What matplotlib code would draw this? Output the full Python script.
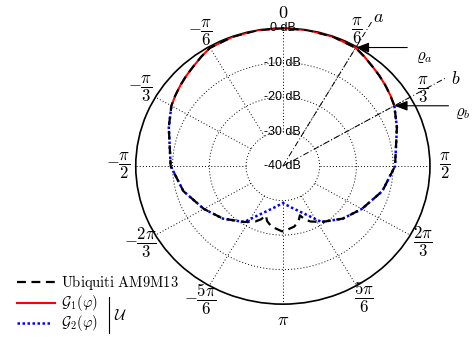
import numpy as np
import matplotlib.pyplot as plt
from matplotlib.lines import Line2D

plt.rcParams['mathtext.fontset'] = 'cm'

# Patterns: angle (deg, clockwise from top) and gain (dB)
G1_DEG = [-60, -55, -50, -45, -40, -35, -30, -20, -10, 0, 10, 20, 30, 35, 40, 45, 50, 55, 60]
G1_DB = [-5.0, -4.3, -3.6, -2.9, -2.2, -1.3, -0.4, -0.1, 0, 0, 0, -0.1, -0.4, -1.3, -2.2, -2.9, -3.6, -4.3, -5.0]

G2_DEG = [60, 70, 76, 90, 105, 120, 133, 147, 159, 168, 180,
          192, 201, 213, 227, 240, 255, 270, 284, 290, 300]
G2_DB = [-5.0, -7.0, -8.2, -9.5, -12.0, -15.2, -17.7, -20.7, -25.6, -27.6, -29.3,
         -27.6, -25.6, -20.7, -17.7, -15.2, -12.0, -9.5, -8.2, -7.0, -5.0]

UBNT_DEG = [-180, -170, -165, -162, -159, -155, -147, -133, -120, -105, -90, -76, -70,
            -60, -55, -50, -45, -40, -35, -30, -20, -10, 0, 10, 20, 30, 35, 40, 45, 50, 55,
            60, 70, 76, 90, 105, 120, 133, 147, 155, 159, 162, 165, 170, 180]
UBNT_DB = [-21.0, -22.2, -23.5, -25.0, -23.5, -22.3, -20.7, -17.7, -15.2, -12.0, -9.5, -8.2, -7.0,
           -5.0, -4.3, -3.6, -2.9, -2.2, -1.3, -0.4, -0.1, 0, 0, 0, -0.1, -0.4, -1.3, -2.2, -2.9, -3.6, -4.3,
           -5.0, -7.0, -8.2, -9.5, -12.0, -15.2, -17.7, -20.7, -22.3, -23.5, -25.0, -23.5, -22.2, -21.0]

R_TICKS = [0, -10, -20, -30, -40]
R_LABELS = ['0 dB', '-10 dB', '-20 dB', '-30 dB', '-40 dB']

T_TICKS = [0, 30, 60, 90, 120, 150, 180, -150, -120, -90, -60, -30]
T_LABELS = [r'$0$', r'$\dfrac{\pi}{6}$', r'$\dfrac{\pi}{3}$', r'$\dfrac{\pi}{2}$',
            r'$\dfrac{2\pi}{3}$', r'$\dfrac{5\pi}{6}$', r'$\pi$', r'$-\dfrac{5\pi}{6}$',
            r'$-\dfrac{2\pi}{3}$', r'$-\dfrac{\pi}{2}$', r'$-\dfrac{\pi}{3}$', r'$-\dfrac{\pi}{6}$']

fig = plt.figure(figsize=(4.73, 3.37), dpi=100)
ax = fig.add_axes([0.287, 0.0975, 0.622, 0.819], projection='polar')
ax.set_aspect('auto')
ax.set_theta_zero_location('N')
ax.set_theta_direction(-1)
ax.set_ylim(-40, 0)
ax.set_xticks([])
ax.set_yticks([])
ax.grid(False)
ax.spines['polar'].set_linewidth(1.2)
ax.spines['polar'].set_color('black')

# grid: rings and spokes
dots = dict(color='k', lw=0.7, ls=(0, (1, 2.2)))
full = np.linspace(0, 2 * np.pi, 361)
for rv in [-30, -20, -10]:
    ax.plot(full, np.full_like(full, rv), **dots)
for d in range(0, 360, 30):
    ax.plot([np.deg2rad(d)] * 2, [-30, 0], **dots)

ax.plot(np.deg2rad(G1_DEG), G1_DB, color='red', lw=1.5, zorder=3)
ax.plot(np.deg2rad(G2_DEG), G2_DB, color='blue', lw=1.8, ls=(0, (1, 1)), zorder=3)
ax.plot(np.deg2rad(UBNT_DEG), UBNT_DB, color='black', lw=1.6, ls=(0, (4, 2.5)), zorder=4)

for rv, lab in zip(R_TICKS, R_LABELS):
    ax.text(0, rv, lab, ha='center', va='center', fontsize=9,
            family='Liberation Sans', zorder=6)

for d, lab in zip(T_TICKS, T_LABELS):
    rr = 4.7 if d < 0 else 4.0
    fs = 12
    if d in (0, 180):
        rr = 4.5
        fs = 13
    dpos = 27 if d == 30 else d
    ax.text(np.deg2rad(dpos), rr, lab, ha='center', va='center', fontsize=fs, clip_on=False)

# direction lines a and b
dd = dict(color='k', lw=0.7, ls=(0, (6, 2.5, 1, 2.5)), clip_on=False, zorder=5)
ax.plot([np.deg2rad(30)] * 2, [-40, 8.4], **dd)
ax.plot([np.deg2rad(60)] * 2, [-40, 10.9], **dd)

arr = dict(arrowstyle='-|>,head_length=0.8,head_width=0.3', color='k', lw=0.8,
           shrinkA=0, shrinkB=0, mutation_scale=10)
ax.annotate('', xy=(np.deg2rad(30), -0.3), xytext=(37, 0), textcoords='offset points',
            arrowprops=arr, zorder=6)
ax.annotate('', xy=(np.deg2rad(60), -5.0), xytext=(39, 0), textcoords='offset points',
            arrowprops=arr, zorder=6)

W, H = 473.0, 337.0
fig.text(378 / W, 1 - 17 / H, r'$a$', ha='center', va='center', fontsize=13)
fig.text(456 / W, 1 - 79 / H, r'$b$', ha='center', va='center', fontsize=13)
fig.text(424 / W, 1 - 56 / H, r'$\varrho_a$', ha='center', va='center', fontsize=12)
fig.text(463 / W, 1 - 112 / H, r'$\varrho_b$', ha='center', va='center', fontsize=12)

# legend
fig.add_artist(Line2D([17 / W, 55 / W], [1 - 282 / H] * 2, color='k', lw=1.6, ls=(0, (4, 2.5))))
fig.add_artist(Line2D([17 / W, 55 / W], [1 - 303 / H] * 2, color='red', lw=1.5))
fig.add_artist(Line2D([17 / W, 52 / W], [1 - 323 / H] * 2, color='blue', lw=1.8, ls=(0, (1, 1))))
fig.add_artist(Line2D([108.5 / W] * 2, [1 - 297 / H, 1 - 333 / H], color='k', lw=0.8))
fig.text(61 / W, 1 - 282 / H, r'$\mathrm{Ubiquiti\ AM9M13}$', va='center', fontsize=10.5)
fig.text(61 / W, 1 - 303 / H, r'$\mathcal{G}_1(\varphi)$', va='center', fontsize=10.5)
fig.text(61 / W, 1 - 323 / H, r'$\mathcal{G}_2(\varphi)$', va='center', fontsize=10.5)
fig.text(114 / W, 1 - 315 / H, r'$\mathcal{U}$', va='center', fontsize=11)

fig.savefig('out.png', dpi=100)
